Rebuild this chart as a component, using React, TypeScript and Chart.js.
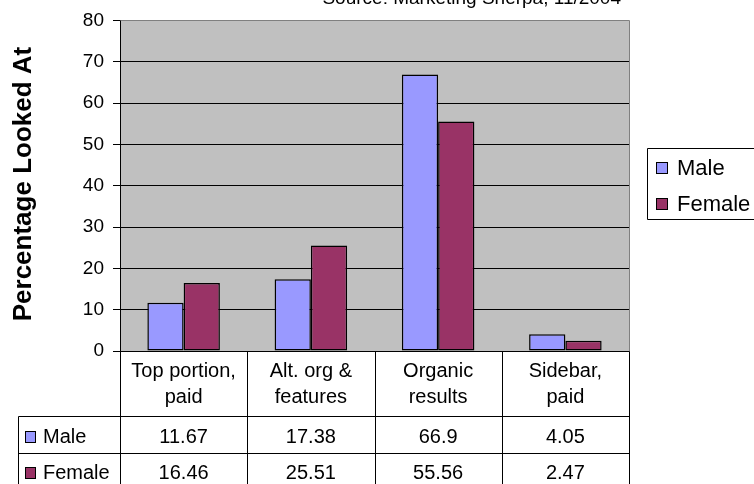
import React, { useEffect, useRef } from "react";
import { Chart, registerables } from "chart.js";

Chart.register(...registerables);

// Chart content
const categories: string[][] = [
  ["Top portion,", "paid"],
  ["Alt. org &", "features"],
  ["Organic", "results"],
  ["Sidebar,", "paid"],
];
const maleValues = [11.67, 17.38, 66.9, 4.05];
const femaleValues = [16.46, 25.51, 55.56, 2.47];
const seriesNames = ["Male", "Female"];
const seriesColors = ["#9999ff", "#993366"];
const yMin = 0;
const yMax = 80;
const yStep = 10;
const yTitle = "Percentage Looked At";
const sourceNote = "Source: Marketing Sherpa, 11/2004";

const FONT = '"Liberation Sans", Arial, sans-serif';

const W = 754;
const H = 484;

// Excel-style chart decorations: grey plot area, data table, boxed legend, titles
const decorations = {
  id: "decorations",
  beforeDraw(chart: any) {
    const { ctx, chartArea: a } = chart;
    ctx.save();
    ctx.fillStyle = "#ffffff";
    ctx.fillRect(0, 0, chart.width, chart.height);
    ctx.fillStyle = "#c0c0c0";
    ctx.fillRect(a.left, a.top, a.right - a.left, a.bottom - a.top);
    ctx.restore();
  },
  afterDraw(chart: any) {
    const { ctx, chartArea: a } = chart;
    const series = [maleValues, femaleValues];
    const n = categories.length;
    const cw = (a.right - a.left) / n;
    const catBottom = 416;
    const rowBottoms = [453, 490];
    const tableLeft = 18;
    const px = (v: number) => Math.round(v) + 0.5;

    ctx.save();
    // plot area frame (top and right)
    ctx.strokeStyle = "#808080";
    ctx.lineWidth = 1;
    ctx.beginPath();
    ctx.moveTo(px(a.left), px(a.top));
    ctx.lineTo(px(a.right), px(a.top));
    ctx.lineTo(px(a.right), px(a.bottom));
    ctx.stroke();

    // data table grid
    ctx.strokeStyle = "#000000";
    ctx.beginPath();
    for (let i = 0; i <= n; i++) {
      const x = px(a.left + i * cw);
      ctx.moveTo(x, px(a.bottom));
      ctx.lineTo(x, H);
    }
    ctx.moveTo(px(tableLeft), px(catBottom));
    ctx.lineTo(px(tableLeft), H);
    ctx.moveTo(px(tableLeft), px(catBottom));
    ctx.lineTo(px(a.right), px(catBottom));
    ctx.moveTo(px(tableLeft), px(rowBottoms[0]));
    ctx.lineTo(px(a.right), px(rowBottoms[0]));
    ctx.moveTo(px(a.left), px(a.bottom));
    ctx.lineTo(px(a.right), px(a.bottom));
    ctx.stroke();

    // category labels
    ctx.fillStyle = "#000000";
    ctx.textAlign = "center";
    ctx.textBaseline = "alphabetic";
    ctx.font = `20px ${FONT}`;
    categories.forEach((lines, i) => {
      const cx = a.left + (i + 0.5) * cw;
      lines.forEach((line, j) => ctx.fillText(line, cx, 377 + j * 26));
    });

    // series rows
    const rowBaselines = [443, 479];
    series.forEach((vals, r) => {
      const base = rowBaselines[r];
      ctx.font = `20px ${FONT}`;
      ctx.textAlign = "center";
      vals.forEach((v, i) => {
        ctx.fillText(String(v), a.left + (i + 0.5) * cw, base);
      });
      // key square + name
      ctx.fillStyle = seriesColors[r];
      ctx.fillRect(25, base - 12, 10, 11);
      ctx.strokeStyle = "#000000";
      ctx.strokeRect(25.5, base - 11.5, 10, 11);
      ctx.fillStyle = "#000000";
      ctx.textAlign = "left";
      ctx.fillText(seriesNames[r], 43, base);
    });

    // legend box (runs past the right edge)
    ctx.strokeStyle = "#000000";
    ctx.beginPath();
    ctx.moveTo(W + 2, 148.5);
    ctx.lineTo(647.5, 148.5);
    ctx.lineTo(647.5, 219.5);
    ctx.lineTo(W + 2, 219.5);
    ctx.stroke();
    ctx.font = `22px ${FONT}`;
    ctx.textAlign = "left";
    const legendBase = [175, 211];
    seriesNames.forEach((name, r) => {
      const y = legendBase[r];
      ctx.fillStyle = seriesColors[r];
      ctx.fillRect(656, y - 13, 11, 11);
      ctx.strokeRect(656.5, y - 12.5, 11, 11);
      ctx.fillStyle = "#000000";
      ctx.fillText(name, 677, y);
    });

    // y axis title
    ctx.save();
    ctx.translate(31, 184);
    ctx.rotate(-Math.PI / 2);
    ctx.font = `bold 26px ${FONT}`;
    ctx.textAlign = "center";
    ctx.textBaseline = "alphabetic";
    ctx.fillText(yTitle, 0, 0);
    ctx.restore();

    // source note
    ctx.font = `19px ${FONT}`;
    ctx.textAlign = "right";
    ctx.fillText(sourceNote, 621, 4);
    ctx.restore();
  },
};

export default function App() {
  const canvasRef = useRef<HTMLCanvasElement | null>(null);

  useEffect(() => {
    if (!canvasRef.current) return;
    const chart = new Chart(canvasRef.current, {
      type: "bar",
      data: {
        labels: categories.map((c) => c.join(" ")),
        datasets: seriesNames.map((name, i) => ({
          label: name,
          data: i === 0 ? maleValues : femaleValues,
          backgroundColor: seriesColors[i],
          borderColor: "#000000",
          borderWidth: 1.5,
          borderSkipped: false,
          barPercentage: 1,
          categoryPercentage: 0.57,
        })),
      },
      options: {
        responsive: false,
        animation: false,
        devicePixelRatio: 1,
        layout: { padding: { top: 17, right: W - 629, bottom: H - 351, left: 0 } },
        plugins: { legend: { display: false }, tooltip: { enabled: false } },
        scales: {
          x: { display: false },
          y: {
            min: yMin,
            max: yMax,
            ticks: {
              stepSize: yStep,
              color: "#000000",
              font: { family: FONT, size: 19 },
              padding: 9,
            },
            grid: {
              color: "#000000",
              lineWidth: 1,
              tickLength: 7,
              tickColor: "#000000",
            },
            border: { display: true, color: "#000000", width: 1 },
            afterFit(scale: any) {
              scale.width = 120;
            },
          },
        },
      },
      plugins: [decorations],
    });
    return () => chart.destroy();
  }, []);

  return (
    <div style={{ position: "absolute", left: 0, top: 0, width: W, height: H }}>
      <canvas ref={canvasRef} width={W} height={H} style={{ width: W, height: H, display: "block" }} />
    </div>
  );
}
